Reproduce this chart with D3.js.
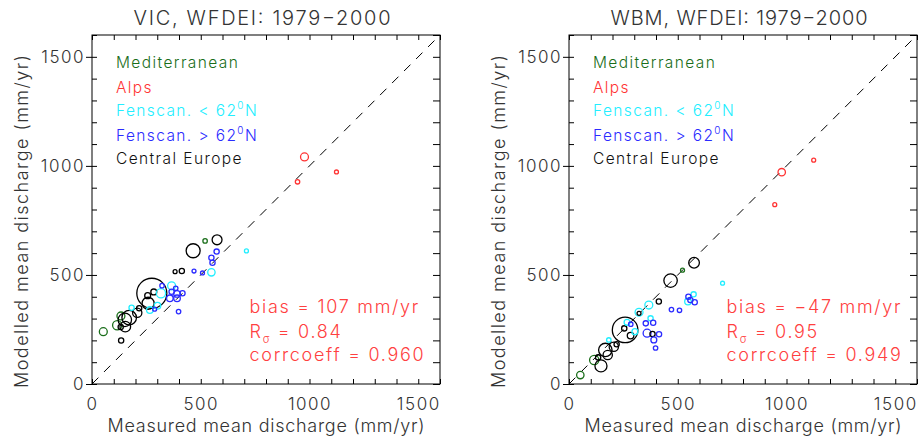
<!DOCTYPE html>
<html>
<head>
<meta charset="utf-8">
<script src="https://cdn.jsdelivr.net/npm/d3@7"></script>
<style>
    body { margin: 0; background: #fff; }
    svg text { font-family: Inter, "DejaVu Sans", sans-serif; font-weight: 300; }
</style>
</head>
<body>
<svg id="chart" width="918" height="439"></svg>
<script>
// region codes: 0 Mediterranean, 1 Alps, 2 Fenscan < 62N, 3 Fenscan > 62N, 4 Central Europe
var regionNames = ['Mediterranean', 'Alps', 'Fenscan. < 62', 'Fenscan. > 62', 'Central Europe'];
var tickValues = [0, 500, 1000, 1500];
var axisMax = 1600;
var panelTitles = ['VIC, WFDEI: 1979\u22122000', 'WBM, WFDEI: 1979\u22122000'];
var biasValues = ['107', '\u221247'];
var rSigmaValues = ['0.84', '0.95'];
var corrValues = ['0.960', '0.949'];

// VIC panel (mm/yr), area in 10^3 km2
var vicMeasured = [52, 134, 116, 133, 132, 153, 171, 151, 208, 217, 182, 275, 258, 256, 284, 266, 301, 288, 317, 366, 322, 366,
    385, 391, 358, 391, 416, 398, 382, 413, 469, 508, 549, 465, 520, 575, 573, 549, 554, 710, 977, 945, 1124];
var vicModelled = [240, 199, 269, 312, 261, 263, 304, 294, 327, 347, 350, 416, 370, 405, 422, 339, 359, 343, 416, 450, 451, 423,
    439, 413, 393, 393, 416, 332, 515, 518, 518, 509, 512, 611, 656, 661, 607, 579, 556, 610, 1041, 927, 972];
var vicArea = [16, 7, 22, 16, 7, 29, 54, 46, 22, 7, 7, 230, 37, 9, 9, 11, 11, 4, 22, 16, 5, 7,
    5, 11, 11, 11, 7, 5, 4, 7, 4, 4, 14, 50, 5, 25, 7, 7, 7, 4, 16, 5, 4];
var vicRegion = [0, 4, 0, 0, 4, 4, 4, 4, 4, 4, 2, 4, 4, 4, 4, 2, 2, 3, 2, 2, 3, 3,
    3, 3, 3, 3, 3, 3, 4, 4, 3, 3, 2, 4, 0, 4, 3, 3, 3, 2, 1, 1, 1];

// WBM panel
var wbmMeasured = [52, 116, 134, 147, 167, 178, 206, 219, 183, 258, 254, 283, 267, 284, 303, 322, 322, 367, 413, 375, 353, 387,
    359, 384, 414, 390, 398, 471, 508, 467, 522, 575, 547, 573, 549, 558, 578, 706, 1125, 978, 946];
var wbmModelled = [41, 110, 122, 83, 156, 133, 171, 182, 202, 248, 255, 222, 283, 274, 240, 329, 324, 362, 378, 301, 278, 281,
    233, 229, 228, 202, 165, 341, 338, 474, 522, 556, 378, 411, 400, 385, 375, 462, 1026, 971, 822];
var wbmArea = [14, 22, 7, 37, 46, 22, 22, 7, 5, 167, 7, 11, 9, 5, 9, 16, 4, 16, 7, 7, 7, 7,
    16, 7, 7, 9, 5, 5, 5, 46, 4, 29, 11, 7, 7, 7, 7, 4, 4, 14, 4];
var wbmRegion = [0, 0, 4, 4, 4, 4, 4, 4, 2, 4, 4, 4, 2, 3, 2, 2, 4, 2, 4, 2, 3, 3,
    3, 4, 3, 3, 3, 3, 3, 4, 0, 4, 2, 2, 3, 3, 3, 2, 1, 1, 1];

var regionColors = ['#1a6e1a', '#ff3333', '#22eeff', '#2b2bff', '#000000'];
var textColor = '#333333';
var statColor = '#ff4040';

var svg = d3.select('#chart');

var width = 348,
    height = 349,
    marginTop = 35;

var x = d3.scaleLinear().domain([0, axisMax]).range([0, width]);
var y = d3.scaleLinear().domain([0, axisMax]).range([height, 0]);
var r = d3.scaleSqrt().domain([0, 200]).range([0, 14]);

var minorTicks = d3.range(0, axisMax + 1, 100);

function drawPanel(offset, index, measured, modelled, area, region) {
    var g = svg.append('g').attr('transform', 'translate(' + offset + ',' + marginTop + ')');
    var points = measured.map(function(m, i) {
        return { x: m, y: modelled[i], area: area[i], region: region[i] };
    });

    // minor ticks, pointing inward on all four sides
    g.append('g').attr('transform', 'translate(0,' + height + ')')
        .call(d3.axisBottom(x).tickValues(minorTicks).tickSize(-5).tickFormat(''));
    g.append('g')
        .call(d3.axisTop(x).tickValues(minorTicks).tickSize(-5).tickFormat(''));
    g.append('g')
        .call(d3.axisLeft(y).tickValues(minorTicks).tickSize(-5).tickFormat(''));
    g.append('g').attr('transform', 'translate(' + width + ',0)')
        .call(d3.axisRight(y).tickValues(minorTicks).tickSize(-7).tickFormat(''));

    // labelled axes
    g.append('g').attr('transform', 'translate(0,' + height + ')')
        .call(d3.axisBottom(x).tickValues(tickValues).tickSize(0).tickPadding(14).tickFormat(d3.format('d')));
    g.append('g')
        .call(d3.axisLeft(y).tickValues(tickValues).tickSize(6).tickPadding(1).tickFormat(d3.format('d')));

    g.selectAll('.domain').remove();
    g.selectAll('.tick line').attr('stroke', '#000');
    g.selectAll('.tick text')
        .attr('font-size', '17px')
        .attr('fill', textColor)
        .style('font-family', 'Inter, "DejaVu Sans", sans-serif')
        .style('letter-spacing', '1.5px');

    g.append('rect')
        .attr('width', width)
        .attr('height', height)
        .attr('fill', 'none')
        .attr('stroke', '#000')
        .attr('stroke-width', 1);

    // 1:1 line
    g.append('line')
        .attr('x1', x(0)).attr('y1', y(0))
        .attr('x2', x(axisMax)).attr('y2', y(axisMax))
        .attr('stroke', '#000')
        .attr('stroke-width', 1)
        .attr('stroke-dasharray', '9,8');

    g.selectAll('circle.station')
        .data(points)
        .enter().append('circle')
        .attr('class', 'station')
        .attr('cx', function(d) { return x(d.x); })
        .attr('cy', function(d) { return y(d.y); })
        .attr('r', function(d) { return r(d.area); })
        .attr('fill', 'none')
        .attr('stroke', function(d) { return regionColors[d.region]; })
        .attr('stroke-width', 1.3);

    // legend
    var legend = g.append('g').attr('transform', 'translate(24,0)');
    regionNames.forEach(function(name, i) {
        var t = legend.append('text')
            .attr('y', [33, 57.7, 81, 105.7, 129][i])
            .attr('font-size', '15.5px')
            .style('letter-spacing', '1.4px')
            .attr('fill', regionColors[i] === '#000000' ? '#111' : regionColors[i])
            .text(name);
        if (i === 2 || i === 3) {
            t.append('tspan').attr('dy', -7).attr('font-size', '10px').text('0');
            t.append('tspan').attr('dy', 7).text('N');
        }
    });

    // statistics
    var stats = g.append('g')
        .attr('transform', 'translate(157.5,0)')
        .attr('fill', statColor)
        .attr('font-size', '18px')
        .style('letter-spacing', '1.7px');

    stats.append('text').attr('y', 277.7).text('bias = ' + biasValues[index] + ' mm/yr');
    var rs = stats.append('text').attr('y', 302.7).text('R');
    rs.append('tspan').attr('dy', 5).attr('font-size', '11px').text('\u03c3');
    rs.append('tspan').attr('dy', -5).text(' = ' + rSigmaValues[index]);
    stats.append('text').attr('y', 326).text('corrcoeff = ' + corrValues[index]);

    // titles
    g.append('text')
        .attr('x', width / 2 - 4)
        .attr('y', -10)
        .attr('text-anchor', 'middle')
        .attr('font-size', '20px')
        .attr('fill', textColor)
        .attr('textLength', 257)
        .text(panelTitles[index]);

    g.append('text')
        .attr('x', width / 2)
        .attr('y', 396.7)
        .attr('text-anchor', 'middle')
        .attr('font-size', '18px')
        .attr('fill', textColor)
        .attr('textLength', 317)
        .text('Measured mean discharge (mm/yr)');

    g.append('text')
        .attr('transform', 'translate(-64,186.5) rotate(-90)')
        .attr('text-anchor', 'middle')
        .attr('font-size', '18px')
        .attr('fill', textColor)
        .attr('textLength', 333)
        .text('Modelled mean discharge (mm/yr)');
}

drawPanel(92, 0, vicMeasured, vicModelled, vicArea, vicRegion);
drawPanel(569, 1, wbmMeasured, wbmModelled, wbmArea, wbmRegion);
</script>
</body>
</html>
